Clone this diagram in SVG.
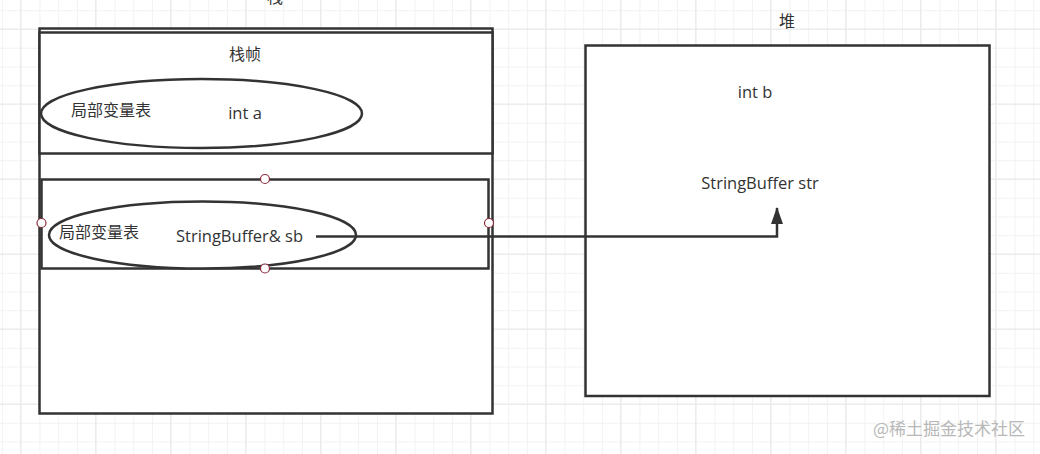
<svg xmlns="http://www.w3.org/2000/svg" width="1040" height="454" viewBox="0 0 1040 454">
  <style>
    .box { fill: #ffffff; stroke: #333333; stroke-width: 2.5; }
    .ell { fill: #ffffff; stroke: #333333; stroke-width: 2.5; }
    .lbl { font-family: "Open Sans", "Noto Sans", "Noto Sans CJK SC", sans-serif; font-size: 16.5px; fill: #333333; }
    .cjk { font-family: "Noto Sans CJK SC", sans-serif; font-size: 16px; fill: #333333; }
    .handle { fill: #ffffff; stroke: #8b2a3a; stroke-width: 1.2; }
    .conn { fill: none; stroke: #333333; stroke-width: 2.5; }
  </style>
  <defs>
    <pattern id="minor" patternUnits="userSpaceOnUse" x="1.95" y="10.25" width="18.75" height="18.75">
      <path d="M0 0.5 H18.75 M0.5 0 V18.75" fill="none" stroke="#f2f2f2" stroke-width="1"/>
    </pattern>
    <pattern id="major" patternUnits="userSpaceOnUse" x="20.2" y="28.5" width="75" height="75">
      <path d="M0 0.5 H75 M0.5 0 V75" fill="none" stroke="#e8e8e8" stroke-width="1"/>
    </pattern>
    <marker id="arrow" markerWidth="18" markerHeight="12" refX="16" refY="6" orient="auto" markerUnits="userSpaceOnUse">
      <path d="M0 0 L17 6 L0 12 Z" fill="#333333"/>
    </marker>
  </defs>

  <rect width="1040" height="454" fill="#ffffff"/>
  <rect width="1040" height="454" fill="url(#minor)"/>
  <rect width="1040" height="454" fill="url(#major)"/>

  <text class="cjk" x="275" y="3" text-anchor="middle">栈</text>

  <g id="stack">
    <rect class="box" x="39.5" y="28.5" width="453" height="385"/>
  </g>

  <g id="frame1">
    <rect class="box" x="39.5" y="32.5" width="453" height="121"/>
    <text class="cjk" x="245" y="60" text-anchor="middle">栈帧</text>
  </g>

  <g id="locals1">
    <ellipse class="ell" cx="201.5" cy="113.5" rx="160.5" ry="34.5"/>
    <text class="cjk" x="71" y="116">局部变量表</text>
    <text class="lbl" x="245" y="119" text-anchor="middle">int a</text>
  </g>

  <g id="frame2">
    <rect class="box" x="41.5" y="179.5" width="447" height="89"/>
  </g>

  <g id="locals2">
    <ellipse class="ell" cx="202.5" cy="235" rx="153.5" ry="33.5"/>
    <text class="cjk" x="59" y="238">局部变量表</text>
    <text class="lbl" x="239.5" y="242" text-anchor="middle">StringBuffer&amp; sb</text>
  </g>

  <g id="handles">
    <circle class="handle" cx="265" cy="179" r="4.5"/>
    <circle class="handle" cx="41.5" cy="223" r="4.5"/>
    <circle class="handle" cx="489" cy="223" r="4.5"/>
    <circle class="handle" cx="265" cy="268.5" r="4.5"/>
  </g>

  <g id="heap">
    <rect class="box" x="585.5" y="45.5" width="404" height="350.5"/>
    <text class="cjk" x="787" y="27" text-anchor="middle">堆</text>
    <text class="lbl" x="755" y="98" text-anchor="middle">int b</text>
    <text class="lbl" x="760" y="189" text-anchor="middle">StringBuffer str</text>
  </g>

  <g id="connectors">
    <path class="conn" d="M316 236.5 H777 V208" marker-end="url(#arrow)"/>
  </g>

  <text x="1025" y="435" text-anchor="end" font-family="Noto Sans CJK SC, sans-serif" font-size="17" fill="#b8b8b8">@稀土掘金技术社区</text>
</svg>
